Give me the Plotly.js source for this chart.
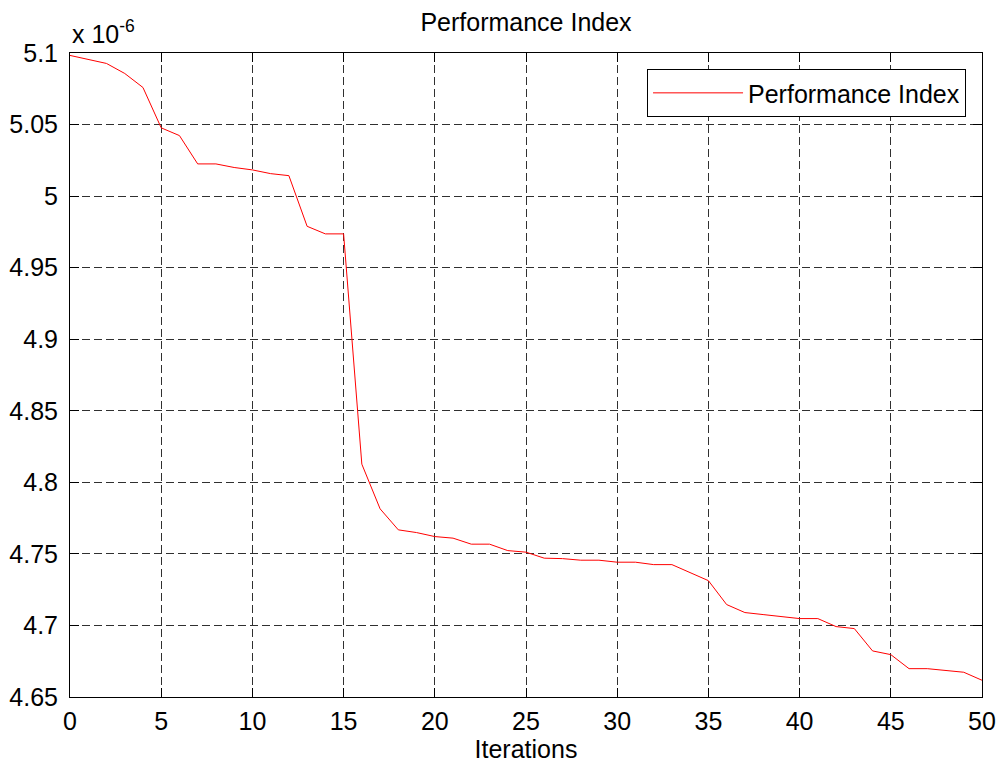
<!DOCTYPE html>
<html>
<head>
<meta charset="utf-8">
<script src="https://cdn.plot.ly/plotly-3.0.1.min.js"></script>
<style>
  html, body { margin: 0; padding: 0; background: #ffffff; }
  #chart { width: 1002px; height: 767px; }
</style>
</head>
<body>
<div id="chart"></div>
<script>
// Iteration numbers
const iterations = [0,1,2,3,4,5,6,7,8,9,10,11,12,13,14,15,16,17,18,19,20,21,22,23,24,25,26,27,28,29,30,31,32,33,34,35,36,37,38,39,40,41,42,43,44,45,46,47,48,49,50];
// Performance index values, in units of 1e-6
const performanceIndex = [
  5.0983, 5.0955, 5.0927, 5.0857, 5.0759, 5.0477, 5.0423, 5.0225, 5.0225, 5.0200,
  5.0183, 5.0157, 5.0143, 4.9789, 4.9736, 4.9736, 4.8127, 4.7815, 4.7668, 4.7649,
  4.7621, 4.7610, 4.7568, 4.7568, 4.7523, 4.7512, 4.7470, 4.7467, 4.7456, 4.7456,
  4.7442, 4.7442, 4.7425, 4.7425, 4.7369, 4.7313, 4.7146, 4.7090, 4.7076, 4.7062,
  4.7048, 4.7048, 4.6992, 4.6978, 4.6822, 4.6796, 4.6698, 4.6698, 4.6687, 4.6673,
  4.6617
];
const yTickVals = [4.65, 4.7, 4.75, 4.8, 4.85, 4.9, 4.95, 5, 5.05, 5.1];
const yTickText = ['4.65', '4.7', '4.75', '4.8', '4.85', '4.9', '4.95', '5', '5.05', '5.1'];
const xTickVals = [0, 5, 10, 15, 20, 25, 30, 35, 40, 45, 50];

const FONT = 'Liberation Sans, Arial, Helvetica, sans-serif';
const FS = 25;

const trace = {
  x: iterations,
  y: performanceIndex,
  type: 'scatter',
  mode: 'lines',
  name: 'Performance Index',
  line: { color: '#ff0000', width: 1 }
};

const axisCommon = {
  showline: true,
  linecolor: '#000000',
  linewidth: 1,
  mirror: 'ticks',
  ticks: 'inside',
  ticklen: 9,
  tickwidth: 1,
  tickcolor: '#000000',
  showgrid: true,
  gridcolor: '#303030',
  gridwidth: 1,
  griddash: '8px,4px',
  zeroline: false,
  tickfont: { family: FONT, size: FS, color: '#000000' }
};

const layout = {
  width: 1002,
  height: 767,
  paper_bgcolor: '#ffffff',
  plot_bgcolor: '#ffffff',
  margin: { l: 70, r: 20, t: 53, b: 70, pad: 0 },
  font: { family: FONT, size: FS, color: '#000000' },
  title: {
    text: 'Performance Index',
    font: { family: FONT, size: FS, color: '#000000' },
    x: 0.5, xref: 'paper', xanchor: 'center',
    y: 1 - 22 / 767, yref: 'container', yanchor: 'middle'
  },
  xaxis: Object.assign({}, axisCommon, {
    range: [0, 50],
    tickmode: 'array',
    tickvals: xTickVals,
    ticklabelstandoff: 2,
    title: { text: 'Iterations', font: { family: FONT, size: FS, color: '#000000' }, standoff: 4 }
  }),
  yaxis: Object.assign({}, axisCommon, {
    range: [4.65, 5.1],
    tickmode: 'array',
    tickvals: yTickVals,
    ticktext: yTickText,
    ticklabelstandoff: 6
  }),
  showlegend: true,
  legend: {
    x: 0.9825, xanchor: 'right', xref: 'paper',
    y: 0.975, yanchor: 'top', yref: 'paper',
    bgcolor: '#ffffff',
    bordercolor: '#000000',
    borderwidth: 1,
    font: { family: FONT, size: FS, color: '#000000' },
    itemwidth: 90
  },
  annotations: [{
    text: 'x 10<sup>-6</sup>',
    xref: 'paper', yref: 'paper',
    x: 0, y: 1, xanchor: 'left', yanchor: 'bottom',
    yshift: 3,
    showarrow: false,
    font: { family: FONT, size: FS, color: '#000000' }
  }]
};

Plotly.newPlot('chart', [trace], layout, { staticPlot: true, displayModeBar: false });
</script>
</body>
</html>
